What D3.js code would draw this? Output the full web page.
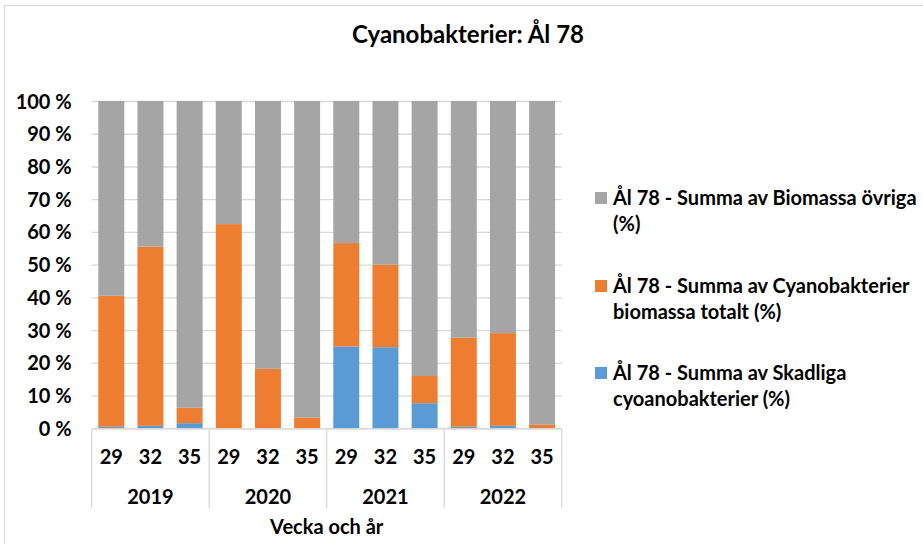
<!DOCTYPE html>
<html>
<head>
<meta charset="utf-8">
<script src="https://cdn.jsdelivr.net/npm/d3@7"></script>
<style>
  body { margin: 0; background: #fff; }
  text { font-family: Lato, "Open Sans", sans-serif; font-weight: bold; fill: #000; }
</style>
</head>
<body>
<svg id="chart" width="923" height="544"></svg>
<script>
// data - weeks within years, % per series (stacked segments)
var years = ['2019', '2020', '2021', '2022'];
var weeks = ['29', '32', '35'];
var skadliga = [0.5, 0.8, 1.6, 0, 0, 0, 25, 24.8, 7.7, 0.5, 0.8, 0];
var cyano = [40, 54.7, 4.7, 62.4, 18.2, 3.3, 31.6, 25.2, 8.3, 27.2, 28.3, 1.1];
var ovriga = [59.5, 44.5, 93.7, 37.6, 81.8, 96.7, 43.4, 50, 84, 72.3, 70.9, 98.9];
var yTicks = [0, 10, 20, 30, 40, 50, 60, 70, 80, 90, 100];
var seriesNames = [
  ['Ål 78 - Summa av Biomassa övriga', '(%)'],
  ['Ål 78 - Summa av Cyanobakterier', 'biomassa totalt (%)'],
  ['Ål 78 - Summa av Skadliga', 'cyoanobakterier (%)']
];
var colors = { skadliga: '#5b9bd5', cyano: '#ed7d31', ovriga: '#a5a5a5' };

var svg = d3.select('#chart');

// outer border
svg.append('rect')
  .attr('x', 4.5).attr('y', 5.5)
  .attr('width', 940).attr('height', 560)
  .attr('fill', 'none').attr('stroke', '#d9d9d9');

var plotLeft = 91.7, plotRight = 561.7, plotTop = 101, plotBottom = 428.4;

var cats = [];
years.forEach(function(y) {
  weeks.forEach(function(w) { cats.push(y + '-' + w); });
});

var rows = cats.map(function(c, i) {
  return { cat: c, skadliga: skadliga[i], cyano: cyano[i], ovriga: ovriga[i] };
});

var x = d3.scaleBand().domain(cats).range([plotLeft, plotRight])
  .paddingInner(0.337).paddingOuter(0.1685);
var xYear = d3.scaleBand().domain(years).range([plotLeft, plotRight]);
var y = d3.scaleLinear().domain([0, 100]).range([plotBottom, plotTop]);

// gridlines
svg.append('g')
  .attr('transform', 'translate(' + plotLeft + ',0)')
  .call(d3.axisLeft(y).tickValues(yTicks).tickSize(-(plotRight - plotLeft)).tickFormat(''))
  .call(function(g) {
    g.select('.domain').remove();
    g.selectAll('line').attr('stroke', '#d9d9d9').attr('stroke-width', 1.3);
  });

// y labels
svg.append('g')
  .attr('transform', 'translate(' + (plotLeft - 20) + ',0)')
  .call(d3.axisLeft(y).tickValues(yTicks).tickSize(0).tickFormat(function(d) { return d + ' %'; }))
  .call(function(g) {
    g.select('.domain').remove();
    g.selectAll('text').attr('font-size', 20).attr('x', 0).attr('dy', '0.35em')
      .style('font-family', 'Lato, sans-serif').style('font-weight', 'bold');
  });

// stacked bars
var stack = d3.stack().keys(['skadliga', 'cyano', 'ovriga']);
var layers = stack(rows);

svg.append('g').selectAll('g')
  .data(layers)
  .enter().append('g')
  .attr('fill', function(d) { return colors[d.key]; })
  .selectAll('rect')
  .data(function(d) { return d; })
  .enter().append('rect')
  .attr('x', function(d) { return x(d.data.cat); })
  .attr('width', x.bandwidth())
  .attr('y', function(d) { return y(d[1]); })
  .attr('height', function(d) { return y(d[0]) - y(d[1]); });

// category axis line + separators
svg.append('line')
  .attr('x1', plotLeft).attr('x2', plotRight)
  .attr('y1', plotBottom + 0.5).attr('y2', plotBottom + 0.5)
  .attr('stroke', '#d9d9d9').attr('stroke-width', 1.3);

var seps = years.map(function(yr) { return xYear(yr); }).concat([plotRight]);
svg.append('g').selectAll('line')
  .data(seps)
  .enter().append('line')
  .attr('x1', function(d) { return d; }).attr('x2', function(d) { return d; })
  .attr('y1', plotBottom).attr('y2', 508)
  .attr('stroke', '#d9d9d9').attr('stroke-width', 1.3);

// week labels
svg.append('g').selectAll('text')
  .data(cats)
  .enter().append('text')
  .attr('x', function(d) { return x(d) + x.bandwidth() / 2; })
  .attr('y', 457)
  .attr('dy', '0.35em')
  .attr('text-anchor', 'middle')
  .attr('font-size', 20)
  .text(function(d) { return d.split('-')[1]; });

// year labels
svg.append('g').selectAll('text')
  .data(years)
  .enter().append('text')
  .attr('x', function(d) { return xYear(d) + xYear.bandwidth() / 2; })
  .attr('y', 497)
  .attr('dy', '0.35em')
  .attr('text-anchor', 'middle')
  .attr('font-size', 20)
  .text(function(d) { return d; });

// axis title
svg.append('text')
  .attr('x', (plotLeft + plotRight) / 2).attr('y', 527)
  .attr('dy', '0.35em')
  .attr('text-anchor', 'middle')
  .attr('font-size', 20)
  .text('Vecka och år');

// title
svg.append('text')
  .attr('x', 468).attr('y', 35)
  .attr('dy', '0.35em')
  .attr('text-anchor', 'middle')
  .attr('font-size', 24)
  .text('Cyanobakterier: Ål 78');

// legend
var legendKeys = ['ovriga', 'cyano', 'skadliga'];
var legendY = [198, 286, 373];
var lg = svg.append('g').selectAll('g')
  .data(legendKeys)
  .enter().append('g')
  .attr('transform', function(d, i) { return 'translate(595,' + legendY[i] + ')'; });

lg.append('rect')
  .attr('x', 0).attr('y', -6)
  .attr('width', 12).attr('height', 12)
  .attr('fill', function(d) { return colors[d]; });

lg.each(function(d, i) {
  var t = d3.select(this).append('text')
    .attr('x', 18).attr('y', 0)
    .attr('font-size', 20);
  t.append('tspan').attr('x', 18).attr('dy', '0.35em').text(seriesNames[i][0]);
  t.append('tspan').attr('x', 18).attr('dy', 26).text(seriesNames[i][1]);
});
</script>
</body>
</html>
